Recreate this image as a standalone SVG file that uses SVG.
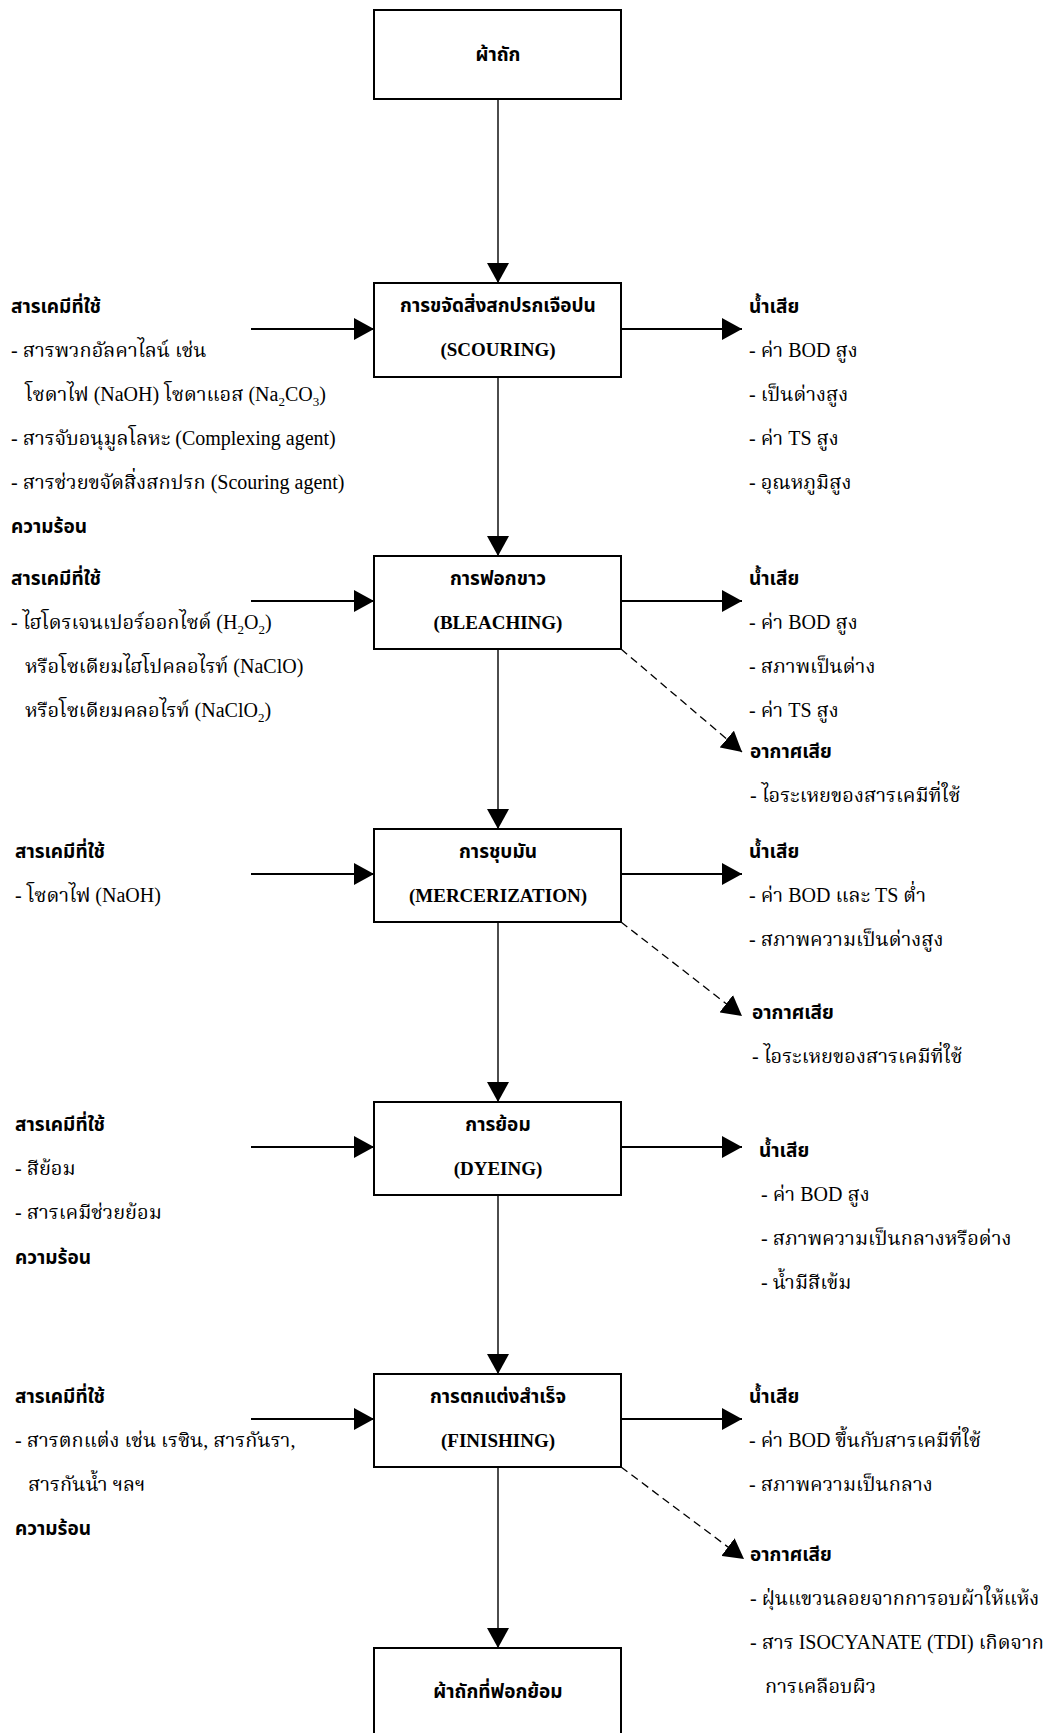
<svg xmlns="http://www.w3.org/2000/svg" width="1053" height="1733" viewBox="0 0 1053 1733">
<style>
.box{fill:#fff;stroke:#000;stroke-width:2}
.h{font-family:"Noto Sans Thai","Loma","Liberation Sans","DejaVu Sans",sans-serif;font-weight:bold;font-size:19px;fill:#000}
.t{font-family:"Liberation Serif","Noto Serif Thai","Norasi","Noto Sans Thai","DejaVu Serif",serif;font-size:20px;fill:#000}
.bt{font-family:"Liberation Serif","Noto Serif Thai","DejaVu Serif",serif;font-weight:bold;font-size:19px;fill:#000}
.c{text-anchor:middle}
.v{stroke:#000;stroke-width:1.4;fill:none}
.hz{stroke:#000;stroke-width:1.8;fill:none}
.d{stroke:#000;stroke-width:1.3;fill:none;stroke-dasharray:8 5}
.sub{font-size:13px}
</style>
<defs>
<marker id="ah" markerUnits="userSpaceOnUse" markerWidth="20" markerHeight="22" refX="20" refY="11" orient="auto" viewBox="0 0 20 22">
<path d="M0,0 L20,11 L0,22 z" fill="#000"/>
</marker>
</defs>

<g id="connectors">
<line class="v" x1="498" y1="99" x2="498" y2="283" marker-end="url(#ah)"/>
<line class="v" x1="498" y1="377" x2="498" y2="556" marker-end="url(#ah)"/>
<line class="v" x1="498" y1="649" x2="498" y2="829" marker-end="url(#ah)"/>
<line class="v" x1="498" y1="922" x2="498" y2="1102" marker-end="url(#ah)"/>
<line class="v" x1="498" y1="1195" x2="498" y2="1374" marker-end="url(#ah)"/>
<line class="v" x1="498" y1="1467" x2="498" y2="1648" marker-end="url(#ah)"/>
<line class="hz" x1="251" y1="329" x2="374" y2="329" marker-end="url(#ah)"/>
<line class="hz" x1="621" y1="329" x2="742" y2="329" marker-end="url(#ah)"/>
<line class="hz" x1="251" y1="601" x2="374" y2="601" marker-end="url(#ah)"/>
<line class="hz" x1="621" y1="601" x2="742" y2="601" marker-end="url(#ah)"/>
<line class="hz" x1="251" y1="874" x2="374" y2="874" marker-end="url(#ah)"/>
<line class="hz" x1="621" y1="874" x2="742" y2="874" marker-end="url(#ah)"/>
<line class="hz" x1="251" y1="1147" x2="374" y2="1147" marker-end="url(#ah)"/>
<line class="hz" x1="621" y1="1147" x2="742" y2="1147" marker-end="url(#ah)"/>
<line class="hz" x1="251" y1="1419" x2="374" y2="1419" marker-end="url(#ah)"/>
<line class="hz" x1="621" y1="1419" x2="742" y2="1419" marker-end="url(#ah)"/>
<line class="d" x1="621" y1="649" x2="742" y2="752" marker-end="url(#ah)"/>
<line class="d" x1="621" y1="922" x2="742" y2="1016" marker-end="url(#ah)"/>
<line class="d" x1="621" y1="1467" x2="744" y2="1559" marker-end="url(#ah)"/>
</g>

<g id="n1">
<rect class="box" x="374" y="10" width="247" height="89"/>
<text class="h c" x="498" y="61">ผ้าถัก</text>
</g>
<g id="n2">
<rect class="box" x="374" y="283" width="247" height="94"/>
<text class="h c" x="498" y="312">การขจัดสิ่งสกปรกเจือปน</text>
<text class="bt c" x="498" y="356">(SCOURING)</text>
</g>
<g id="n3">
<rect class="box" x="374" y="556" width="247" height="93"/>
<text class="h c" x="498" y="585">การฟอกขาว</text>
<text class="bt c" x="498" y="629">(BLEACHING)</text>
</g>
<g id="n4">
<rect class="box" x="374" y="829" width="247" height="93"/>
<text class="h c" x="498" y="858">การชุบมัน</text>
<text class="bt c" x="498" y="902">(MERCERIZATION)</text>
</g>
<g id="n5">
<rect class="box" x="374" y="1102" width="247" height="93"/>
<text class="h c" x="498" y="1131">การย้อม</text>
<text class="bt c" x="498" y="1175">(DYEING)</text>
</g>
<g id="n6">
<rect class="box" x="374" y="1374" width="247" height="93"/>
<text class="h c" x="498" y="1403">การตกแต่งสำเร็จ</text>
<text class="bt c" x="498" y="1447">(FINISHING)</text>
</g>
<g id="n7">
<rect class="box" x="374" y="1648" width="247" height="94"/>
<text class="h c" x="498" y="1698">ผ้าถักที่ฟอกย้อม</text>
</g>

<g id="in1">
<text class="h" x="11" y="313">สารเคมีที่ใช้</text>
<text class="t" x="11" y="357">- สารพวกอัลคาไลน์ เช่น</text>
<text class="t" x="25" y="401">โซดาไฟ (NaOH) โซดาแอส (Na<tspan class="sub" dy="5">2</tspan><tspan dy="-5">CO</tspan><tspan class="sub" dy="5">3</tspan><tspan dy="-5">)</tspan></text>
<text class="t" x="11" y="445">- สารจับอนุมูลโลหะ (Complexing agent)</text>
<text class="t" x="11" y="489">- สารช่วยขจัดสิ่งสกปรก (Scouring agent)</text>
<text class="h" x="11" y="533">ความร้อน</text>
</g>
<g id="out1">
<text class="h" x="749" y="313">น้ำเสีย</text>
<text class="t" x="749" y="357">- ค่า BOD สูง</text>
<text class="t" x="749" y="401">- เป็นด่างสูง</text>
<text class="t" x="749" y="445">- ค่า TS สูง</text>
<text class="t" x="749" y="489">- อุณหภูมิสูง</text>
</g>

<g id="in2">
<text class="h" x="11" y="585">สารเคมีที่ใช้</text>
<text class="t" x="11" y="629">- ไฮโดรเจนเปอร์ออกไซด์ (H<tspan class="sub" dy="5">2</tspan><tspan dy="-5">O</tspan><tspan class="sub" dy="5">2</tspan><tspan dy="-5">)</tspan></text>
<text class="t" x="25" y="673">หรือโซเดียมไฮโปคลอไรท์ (NaClO)</text>
<text class="t" x="25" y="717">หรือโซเดียมคลอไรท์ (NaClO<tspan class="sub" dy="5">2</tspan><tspan dy="-5">)</tspan></text>
</g>
<g id="out2">
<text class="h" x="749" y="585">น้ำเสีย</text>
<text class="t" x="749" y="629">- ค่า BOD สูง</text>
<text class="t" x="749" y="673">- สภาพเป็นด่าง</text>
<text class="t" x="749" y="717">- ค่า TS สูง</text>
<text class="h" x="750" y="758">อากาศเสีย</text>
<text class="t" x="750" y="802">- ไอระเหยของสารเคมีที่ใช้</text>
</g>

<g id="in3">
<text class="h" x="15" y="858">สารเคมีที่ใช้</text>
<text class="t" x="15" y="902">- โซดาไฟ (NaOH)</text>
</g>
<g id="out3">
<text class="h" x="749" y="858">น้ำเสีย</text>
<text class="t" x="749" y="902">- ค่า BOD และ TS ต่ำ</text>
<text class="t" x="749" y="946">- สภาพความเป็นด่างสูง</text>
<text class="h" x="752" y="1019">อากาศเสีย</text>
<text class="t" x="752" y="1063">- ไอระเหยของสารเคมีที่ใช้</text>
</g>

<g id="in4">
<text class="h" x="15" y="1131">สารเคมีที่ใช้</text>
<text class="t" x="15" y="1175">- สีย้อม</text>
<text class="t" x="15" y="1219">- สารเคมีช่วยย้อม</text>
<text class="h" x="15" y="1264">ความร้อน</text>
</g>
<g id="out4">
<text class="h" x="759" y="1157">น้ำเสีย</text>
<text class="t" x="761" y="1201">- ค่า BOD สูง</text>
<text class="t" x="761" y="1245">- สภาพความเป็นกลางหรือด่าง</text>
<text class="t" x="761" y="1289">- น้ำมีสีเข้ม</text>
</g>

<g id="in5">
<text class="h" x="15" y="1403">สารเคมีที่ใช้</text>
<text class="t" x="15" y="1447">- สารตกแต่ง เช่น เรซิน, สารกันรา,</text>
<text class="t" x="28" y="1491">สารกันน้ำ ฯลฯ</text>
<text class="h" x="15" y="1535">ความร้อน</text>
</g>
<g id="out5">
<text class="h" x="749" y="1403">น้ำเสีย</text>
<text class="t" x="749" y="1447">- ค่า BOD ขึ้นกับสารเคมีที่ใช้</text>
<text class="t" x="749" y="1491">- สภาพความเป็นกลาง</text>
<text class="h" x="750" y="1561">อากาศเสีย</text>
<text class="t" x="750" y="1605">- ฝุ่นแขวนลอยจากการอบผ้าให้แห้ง</text>
<text class="t" x="750" y="1649">- สาร ISOCYANATE (TDI) เกิดจาก</text>
<text class="t" x="765" y="1693">การเคลือบผิว</text>
</g>
</svg>
